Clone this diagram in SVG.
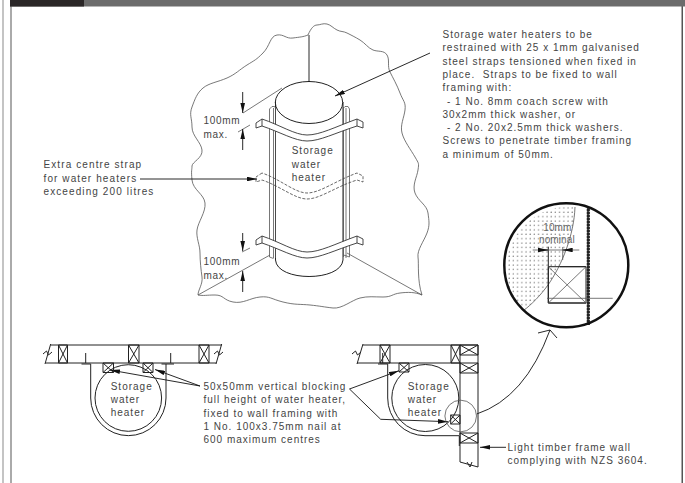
<svg xmlns="http://www.w3.org/2000/svg" width="685" height="483" viewBox="0 0 685 483">
<defs>
<marker id="a" markerWidth="10" markerHeight="4.600" refX="10" refY="2.300" orient="auto" markerUnits="userSpaceOnUse"><path d="M0 0L10 2.300L0 4.600Z" fill="#111"/></marker>
<pattern id="dots" width="4.200" height="4.400" patternUnits="userSpaceOnUse"><circle cx="1" cy="1" r=".6" fill="#444"/></pattern>
<pattern id="wd" width="3" height="3" patternUnits="userSpaceOnUse"><rect width="3" height="3" fill="#222"/><circle cx="1.500" cy="1.500" r=".8" fill="#bbb"/></pattern>
</defs>
<style>
text{font-family:"Liberation Sans",Arial,sans-serif;font-size:10px;letter-spacing:1px;fill:#444;white-space:pre}
.n{letter-spacing:.7px}
.w{letter-spacing:1.100px}
.g{letter-spacing:.1px;fill:#666}
.l{fill:none;stroke:#222;stroke-width:1}
.t{fill:none;stroke:#555;stroke-width:.8}
.f{fill:#fff;stroke:#333;stroke-width:.9}
.d{fill:none;stroke:#444;stroke-width:.8;stroke-dasharray:3 1.500}
.h{fill:none;stroke:#111;stroke-width:.9}
</style>
<rect width="685" height="483" fill="#fff"/>
<g id="frame">
<rect x="2" y="0" width="2" height="483" fill="#c4c4c4"/><rect x="10" y="6" width="2" height="477" fill="#aaa"/><rect x="681.500" y="6" width="1.500" height="477" fill="#555"/>
<rect x="10" y="0" width="675" height="6.500" fill="#6c6c6c"/><rect x="10" y="0" width="74" height="6.500" fill="#2a2627"/>
</g>
<g id="wall"><path class="t" d="M308 35C311 28 314 25 317 25S323 23 327 24S333 28 337 30S343 31 347 33S355 37 360 40S368 48 373 50S384 50 387 55S387 66 390 72S397 85 400 93S406 102 405 110S400 125 402 133S411 150 415 157S419 163 418 170S412 185 415 193S427 205 428 213S430 225 427 233S417 250 418 257S417 280 422 295C415 292 408 292 400 293S392 297 383 297S368 296 360 298S342 309 333 308S320 306 310 305S295 305 283 302S270 296 260 297S243 304 233 302S224 295 215 295S204 296 198 295C198 290 203 284 202 277S200 261 200 253S196 238 197 230S206 212 205 203S193 190 192 180S192 170 192 166S203 158 202 150S192 136 192 127S189 115 192 107S197 93 203 88S218 82 227 78S239 70 247 65S256 60 263 53S270 36 277 35S286 39 293 38S303 37 308 35Z"/></g>
<g id="heater">
<path class="t" d="M198 295L270 255M422 295L347 253M243 113L282 88"/>
<path class="l" d="M275.500 102V260C277 282 341 282 343 260V102"/><ellipse class="l" cx="309" cy="102.500" rx="33.700" ry="21"/>
<path class="t" d="M269.500 109V257M273.500 108V258M275.500 107V258M269.500 109L272 106.500H274.500L275.500 108M269.500 257L273.500 258.500M343.500 107V257M346 108V258M349.500 109V257M343.500 108L345 106.500H348L349.500 109M343.500 255L349.500 257"/>
<path class="f" d="M262 119L256 123V128L262 126C280 132 295 141 307 141C320 141 335 133 357 126L363 128V122L357 119C335 127 320 135 307 135C295 135 280 125 262 119ZM262 119V126M357 119V126"/>
<path class="f" d="M262 236L256 240V245L262 243C280 249 295 258 307 258C320 258 335 250 357 243L363 245V239L357 236C335 244 320 252 307 252C295 252 280 242 262 236ZM262 236V243M357 236V243"/>
<path class="d" d="M262 173L256 177V182L262 180C280 186 295 199 307 199C320 199 335 187 357 180L363 182V176L357 173C335 181 320 193 307 193C295 193 280 179 262 173Z"/>
<text x="291.700" y="154">Storage</text><text x="291.700" y="167.500">water</text><text x="291.700" y="181">heater</text>
</g>
<g id="dims">
<text class="n" x="203.500" y="124">100mm</text><text class="n" x="203.500" y="138">max.</text><text class="n" x="203.500" y="265">100mm</text><text class="n" x="203.500" y="279">max.</text>
<path class="t" d="M238 132L250 125M242 252L250 248"/>
<path class="h" marker-end="url(#a)" d="M242.700 92V113"/><path class="h" marker-end="url(#a)" d="M242.700 150V129"/>
<path class="h" marker-end="url(#a)" d="M242.700 233V251"/><path class="h" marker-end="url(#a)" d="M242.700 292V271"/>
</g>
<g id="texts">
<text class="w" x="43.500" y="168.300">Extra centre strap</text><text class="w" x="43.500" y="181.700">for water heaters</text><text class="w" x="43.500" y="195">exceeding 200 litres</text>
<text x="442.500" y="38">Storage water heaters to be</text><text x="442.500" y="51">restrained with 25 x 1mm galvanised</text><text x="442.500" y="64.500">steel straps tensioned when fixed in</text><text x="442.500" y="77.500">place.  Straps to be fixed to wall</text><text x="442.500" y="91">framing with:</text><text x="447" y="104.500">- 1 No. 8mm coach screw with</text><text x="442.500" y="117.500">30x2mm thick washer, or</text><text x="447" y="131">- 2 No. 20x2.5mm thick washers.</text><text x="442.500" y="144">Screws to penetrate timber framing</text><text x="442.500" y="157.500">a minimum of 50mm.</text>
<text x="203.500" y="390">50x50mm vertical blocking</text><text x="203.500" y="403">full height of water heater,</text><text x="203.500" y="416.500">fixed to wall framing with</text><text x="203.500" y="430">1 No. 100x3.75mm nail at</text><text x="203.500" y="443">600 maximum centres</text>
<text x="507.500" y="451">Light timber frame wall</text><text x="507.500" y="464">complying with NZS 3604.</text>
</g>
<g id="connectors">
<path class="h" marker-end="url(#a)" d="M430 53L335 96"/><path class="h" marker-end="url(#a)" d="M140 179H257"/>
<path class="h" d="M309 35V82"/>
<path class="h" marker-end="url(#a)" d="M200 386L110 370"/><path class="h" marker-end="url(#a)" d="M200 386L155 369.500"/>
<path class="h" marker-end="url(#a)" d="M349.500 389L399 370.700"/><path class="h" marker-end="url(#a)" d="M349.500 389L380.700 419.300L448 421.700"/>
<path class="h" marker-end="url(#a)" d="M506 447.300H480"/>
<path class="h" d="M476.700 414Q525 398 550 330M538 333L550 330L557 338"/>
</g>
<g id="plan-left">
<path class="l" d="M50.700 345H221.700M45.500 363H216M50.700 344L45 364M221.700 344L216 364M43 354L46.500 351L48.500 355L52 352M214 354L217.500 351L219.500 355L223 352"/>
<path class="l" d="M58.500 345H67.500V363H58.500ZM58.500 345L67.500 363M67.500 345L58.500 363M128.500 345H139V363H128.500ZM128.500 345L139 363M139 345L128.500 363M199 345H209V363H199ZM199 345L209 363M209 345L199 363"/>
<path class="l" d="M103 363H113.500V372.500H103ZM103 363L113.500 372.500M113.500 363L103 372.500M143 363H153V372.500H143ZM143 363L153 372.500M153 363L143 372.500"/>
<path class="l" d="M81.500 364H90.700M161.500 364H174M85.700 353V363M170.700 353V363M90.700 364V398A37.600 37.600 0 0 0 166 398V364"/>
<circle class="l" cx="128.300" cy="398" r="33.300"/>
<text x="110.700" y="390">Storage</text><text x="110.700" y="403">water</text><text x="110.700" y="416">heater</text>
</g>
<g id="plan-right">
<path class="l" d="M363 345H478V467M357 363H460V462M363 344L357 364M460 462L478 467M352 354L355.500 351L357.500 355L361 352M467 462L470 467L472 462"/>
<path class="l" d="M380 345H390V363H380ZM380 345L390 363M390 345L380 363M451 345H460V363H451ZM451 345L460 363M460 345L451 363M460 345H478V355H460ZM460 345L478 355M478 345L460 355M460 363H478V373H460ZM460 363L478 373M478 363L460 373M460 433H478V443H460ZM460 433L478 443M478 433L460 443"/>
<path class="l" d="M399 363H409V372H399ZM399 363L409 372M409 363L399 372M450.700 415H460V424H450.700ZM450.700 415L460 424M460 415L450.700 424"/>
<path class="l" d="M378 364H387.700V398A37.500 37.500 0 0 0 425 435.700H459M382.700 353V363M459.300 436V446"/>
<circle class="l" cx="425.300" cy="398" r="33.500"/><circle class="t" cx="460.700" cy="416" r="15.800"/>
<text x="407.700" y="390">Storage</text><text x="407.700" y="403">water</text><text x="407.700" y="416">heater</text>
</g>
<g id="detail">
<path d="M575 207C574 235 562 265 548 285C540 296 532 304 523 311A62 62 0 0 1 575 207Z" fill="url(#dots)"/>
<path class="t" d="M575 207C574 235 562 265 548 285C540 296 532 304 523 311"/>
<rect x="586.700" y="208" width="3.300" height="117" fill="url(#wd)"/>
<path class="l" d="M548.300 266.700H586V303H548.300ZM586 266.700H560M586 303H548.300V246.700"/>
<path class="t" d="M548.300 303L586 266.700M548.300 266.700L586 303M562.700 247V260M532.700 250H579.300M586 298.300H612.700M547 298.300H586"/>
<path class="h" marker-end="url(#a)" d="M538 250H548"/><path class="h" marker-end="url(#a)" d="M572 250H562.700"/>
<circle cx="566.300" cy="265.300" r="62" fill="none" stroke="#111" stroke-width="2.500"/>
<text class="g" x="543.300" y="230.700">10mm</text><text class="g" x="539" y="243.300">nominal</text>
</g>
</svg>
